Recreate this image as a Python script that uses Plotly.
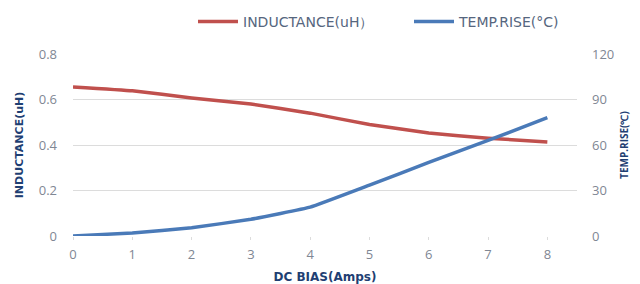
import plotly.graph_objects as go

dc_bias = [0, 1, 2, 3, 4, 5, 6, 7, 8]
inductance = [0.655, 0.638, 0.607, 0.58, 0.54, 0.49, 0.453, 0.43, 0.413]
temp_rise = [0, 2, 5.5, 11, 19, 33.5, 48.5, 63, 78]

x_ticks = [0, 1, 2, 3, 4, 5, 6, 7, 8]
y1_ticks = [0, 0.2, 0.4, 0.6, 0.8]
y1_labels = ["0", "0.2", "0.4", "0.6", "0.8"]
y2_ticks = [0, 30, 60, 90, 120]

RED = "#c0504d"
BLUE = "#4a7ab8"
NAVY = "#1f3f73"
GRAY = "#7f8794"
LEG = "#56667e"
GRID = "#dcdcdc"
FONT = "Open Sans"
WIDE = "DejaVu Sans"

fig = go.Figure()
fig.add_trace(go.Scatter(
    x=dc_bias, y=inductance, mode="lines", name="INDUCTANCE(uH）",
    line=dict(color=RED, width=3.5, shape="spline", smoothing=0.3),
    yaxis="y", legend="legend",
))
fig.add_trace(go.Scatter(
    x=dc_bias, y=temp_rise, mode="lines", name="TEMP.RISE(°C)",
    line=dict(color=BLUE, width=3.5, shape="spline", smoothing=0.3),
    yaxis="y2", legend="legend2",
))

legend_common = dict(
    orientation="h", yref="container", y=1 - 22 / 284, yanchor="middle",
    xref="container", xanchor="left",
    font=dict(family=WIDE, size=14, color=LEG),
    bgcolor="rgba(0,0,0,0)", itemwidth=40,
)

fig.update_layout(
    width=640, height=284,
    margin=dict(l=73, r=63, t=54, b=48, autoexpand=False),
    paper_bgcolor="white", plot_bgcolor="white",
    font=dict(family=FONT, size=13, color=GRAY),
    showlegend=True,
    legend=dict(x=193 / 640, **legend_common),
    legend2=dict(x=409 / 640, **legend_common),
    xaxis=dict(
        range=[0, 8.5], tickvals=x_ticks, showgrid=False, zeroline=False,
        showline=False, ticks="outside", ticklen=3, tickcolor=GRID,
        automargin=False, ticklabelstandoff=3,
        tickfont=dict(family=FONT, size=13, color=GRAY),
        title=dict(text="<b>DC BIAS(Amps)</b>", standoff=14,
                   font=dict(family=WIDE, size=12, color=NAVY)),
    ),
    yaxis=dict(
        range=[0, 0.8], tickvals=y1_ticks, ticktext=y1_labels,
        showgrid=True, gridcolor=GRID, gridwidth=1, zeroline=False,
        ticklabelstandoff=15, automargin=False,
        tickfont=dict(family=FONT, size=13, color=GRAY),
        title=dict(text="<b>INDUCTANCE(uH)</b>", standoff=12,
                   font=dict(family=WIDE, size=11, color=NAVY)),
    ),
    yaxis2=dict(
        range=[0, 120], tickvals=y2_ticks, overlaying="y", side="right",
        showgrid=False, zeroline=False, ticklabelstandoff=14,
        automargin=False,
        tickfont=dict(family=FONT, size=13, color=GRAY),
        title=dict(text="<b>TEMP.RISE(℃)</b>", standoff=7,
                   font=dict(family=FONT, size=10, color=NAVY)),
    ),
)

fig.write_html("out.html", config={"displayModeBar": False},
               post_script="document.body.style.margin='0px';")
